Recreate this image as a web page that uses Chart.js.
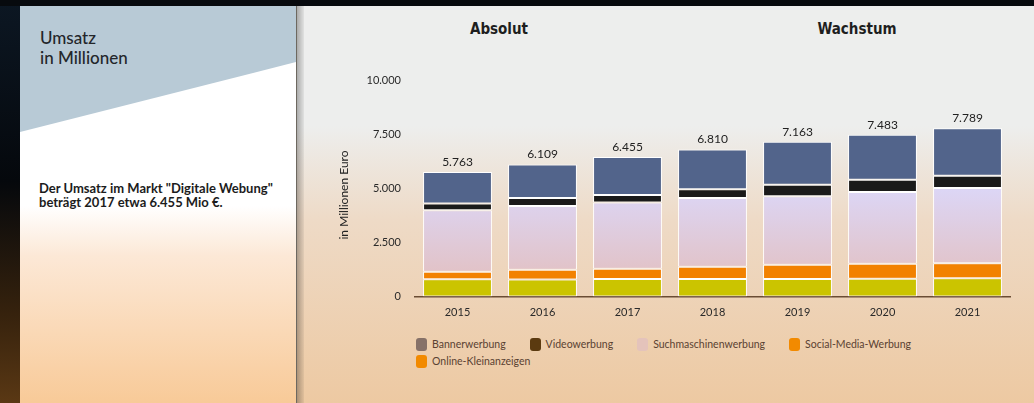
<!DOCTYPE html>
<html lang="de">
<head>
<meta charset="utf-8">
<script src="https://cdn.jsdelivr.net/npm/chart.js@4.4.0/dist/chart.umd.min.js"></script>
<style>
  html, body { margin: 0; padding: 0; }
  body {
    width: 1034px; height: 403px; overflow: hidden; position: relative;
    background: linear-gradient(to bottom, #0c1723 0%, #05080c 45%, #36220d 78%, #5a3814 100%);
    font-family: Lato, "Noto Sans", sans-serif;
  }
  .topbar { position: absolute; left: 0; top: 0; width: 1034px; height: 6px; background: #070a0e; }
  .side {
    position: absolute; left: 20px; top: 6px; width: 276px; height: 397px;
    background: linear-gradient(to bottom, #fff 0, #fff 200px, #fce8d6 250px, #f8ca98 100%);
    border-right: 1px solid #6d6860;
  }
  .side .cap {
    position: absolute; left: 0; top: 0; width: 100%; height: 130px; background: #b8cad6;
    clip-path: polygon(0 0, 100% 0, 100% 56px, 0 126px);
  }
  .side h2 {
    position: absolute; left: 20px; top: 22px; margin: 0;
    font-size: 17px; line-height: 20px; font-weight: 500; color: #23262a;
  }
  .side p {
    position: absolute; left: 19px; top: 175px; margin: 0;
    font-size: 13px; line-height: 14px; font-weight: bold; color: #1c1c1c;
  }
  .main {
    position: absolute; left: 297px; top: 6px; width: 737px; height: 397px;
    background: linear-gradient(to bottom, #edeeed 0, #edeeed 120px, #eedac6 215px, #edc9a2 100%);
  }
  .shade {
    position: absolute; left: 297px; top: 6px; width: 7px; height: 397px;
    background: linear-gradient(to right, rgba(0,0,0,0.28), rgba(0,0,0,0.05));
  }
  .head {
    position: absolute; top: 20px; width: 200px; text-align: center;
    font-family: "DejaVu Sans Condensed", "DejaVu Sans", sans-serif;
    font-weight: bold; font-size: 15px; line-height: 18px; color: #1e1e1e;
  }
  #wrap { position: absolute; left: 304px; top: 6px; width: 730px; height: 330px; }
  #legend {
    position: absolute; left: 416px; top: 336px; width: 595px;
    display: flex; flex-wrap: wrap; column-gap: 24px;
    font-size: 10.5px; line-height: 17px; color: #5a4232;
  }
  #legend .item { display: flex; align-items: center; }
  #legend .box { width: 11px; height: 13px; border-radius: 3px; margin-right: 5px; }
</style>
</head>
<body>
<div class="topbar"></div>
<div class="side">
  <div class="cap"></div>
  <h2>Umsatz<br>in Millionen</h2>
  <p>Der Umsatz im Markt "Digitale Webung"<br>beträgt 2017 etwa 6.455 Mio €.</p>
</div>
<div class="main"></div>
<div class="shade"></div>
<div class="head" style="left:399px">Absolut</div>
<div class="head" style="left:757px">Wachstum</div>
<div id="wrap"><canvas id="umsatzChart"></canvas></div>
<div id="legend"></div>

<script>
const years = ['2015', '2016', '2017', '2018', '2019', '2020', '2021'];
// Werte in Mio. €, von unten nach oben gestapelt
const kleinanzeigen = [800, 790, 810, 810, 810, 820, 840];
const socialMedia = [350, 450, 475, 570, 660, 695, 700];
const suchmaschinen = [2840, 2950, 3070, 3175, 3173, 3318, 3479];
const video = [320, 370, 340, 415, 530, 570, 570];
const banner = [1453, 1549, 1760, 1840, 1990, 2080, 2200];
const yTicks = [0, 2500, 5000, 7500, 10000];

const fmt = v => String(v).replace(/\B(?=(\d{3})+(?!\d))/g, '.');

const totalLabels = {
    id: 'totalLabels',
    afterDatasetsDraw(chart) {
        const { ctx, scales: { y } } = chart;
        const meta = chart.getDatasetMeta(chart.data.datasets.length - 1);
        ctx.save();
        ctx.font = '12px Lato';
        ctx.fillStyle = '#222';
        ctx.textAlign = 'center';
        ctx.textBaseline = 'middle';
        years.forEach((_, i) => {
            const sum = chart.data.datasets.reduce((s, d) => s + d.data[i], 0);
            ctx.fillText(fmt(sum), meta.data[i].x, y.getPixelForValue(sum) - 10);
        });
        ctx.restore();
    }
};

const axisTitle = {
    id: 'axisTitle',
    afterDraw(chart) {
        const { ctx } = chart;
        ctx.save();
        ctx.translate(40, 189);
        ctx.rotate(-Math.PI / 2);
        ctx.font = '12px Lato';
        ctx.fillStyle = '#222';
        ctx.textAlign = 'center';
        ctx.textBaseline = 'middle';
        ctx.fillText('in Millionen Euro', 0, 0);
        ctx.restore();
    }
};

const pinkFill = (c) => {
    const { chart } = c;
    if (!chart.chartArea) return '#dfcbe0';
    const y = chart.scales.y;
    const g = chart.ctx.createLinearGradient(0, y.getPixelForValue(5000), 0, y.getPixelForValue(1000));
    g.addColorStop(0, '#dcd6f6');
    g.addColorStop(1, '#e2c2c6');
    return g;
};

const bar = { borderColor: '#ffffff', borderWidth: 1, borderSkipped: false, barPercentage: 0.9, categoryPercentage: 0.9 };

const chart = new Chart(document.getElementById('umsatzChart'), {
    type: 'bar',
    data: {
        labels: years,
        datasets: [
            { label: 'Online-Kleinanzeigen', data: kleinanzeigen, backgroundColor: '#cbc400', legendColor: '#f28a00', ...bar },
            { label: 'Social-Media-Werbung', data: socialMedia, backgroundColor: '#f28100', legendColor: '#f28a00', ...bar },
            { label: 'Suchmaschinenwerbung', data: suchmaschinen, backgroundColor: pinkFill, legendColor: '#e4c3bb', ...bar },
            { label: 'Videowerbung', data: video, backgroundColor: '#1a1a1a', legendColor: '#5b3a10', ...bar },
            { label: 'Bannerwerbung', data: banner, backgroundColor: '#52648b', legendColor: '#867168', ...bar }
        ]
    },
    options: {
        responsive: true,
        maintainAspectRatio: false,
        animation: false,
        layout: { padding: { left: 29, right: 24, top: 74.5, bottom: 9.5 } },
        plugins: {
            legend: { display: false },
            tooltip: { enabled: false }
        },
        scales: {
            x: {
                stacked: true,
                grid: { display: false, drawTicks: false },
                border: { display: true, color: '#6a4c34', width: 1.5 },
                ticks: { color: '#2a2a2a', font: { family: 'Lato', size: 11 }, padding: 9 },
                afterFit: s => { s.height = 30; }
            },
            y: {
                stacked: true,
                min: 0,
                max: 10000,
                grid: { display: false, drawTicks: false },
                border: { display: false },
                afterBuildTicks: s => { s.ticks = yTicks.map(v => ({ value: v })); },
                ticks: { color: '#2a2a2a', font: { family: 'Lato', size: 11 }, padding: 14, callback: v => fmt(v) },
                afterFit: s => { s.width = 82; }
            }
        }
    },
    plugins: [totalLabels, axisTitle]
});

// HTML-Legende aus den Datensätzen
const legend = document.getElementById('legend');
chart.data.datasets.slice().reverse().forEach(ds => {
    const item = document.createElement('div');
    item.className = 'item';
    const box = document.createElement('span');
    box.className = 'box';
    box.style.background = ds.legendColor;
    item.appendChild(box);
    item.appendChild(document.createTextNode(ds.label));
    legend.appendChild(item);
});
</script>
</body>
</html>
